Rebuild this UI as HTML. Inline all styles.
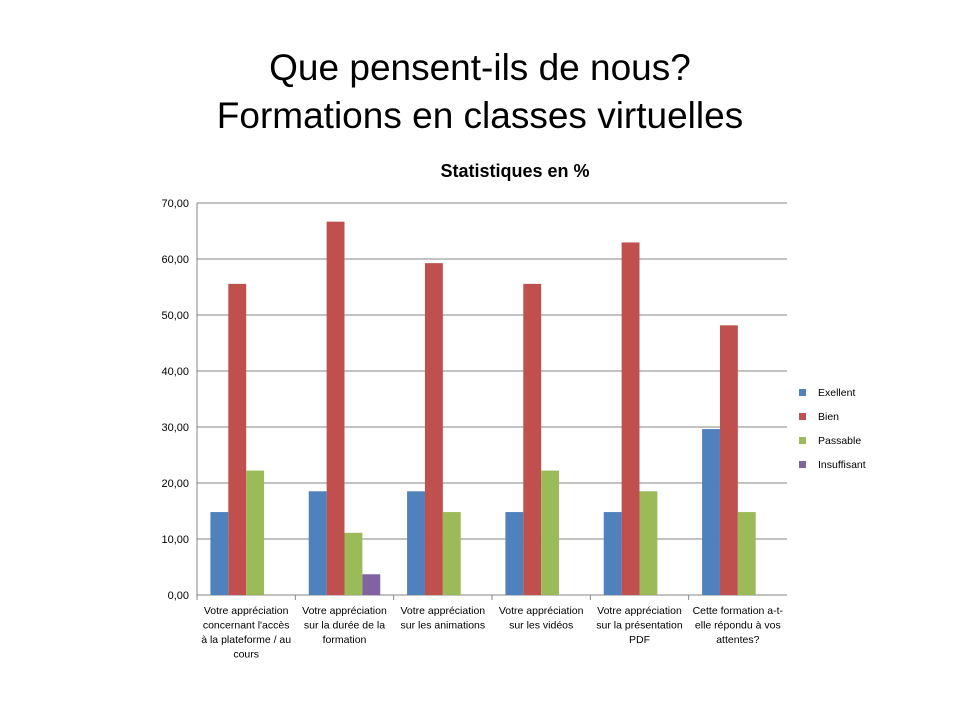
<!DOCTYPE html>
<html><head><meta charset="utf-8"><style>
body{margin:0;background:#fff;width:960px;height:720px;overflow:hidden;font-family:"Liberation Sans",sans-serif}
</style></head><body>
<svg width="960" height="720" xmlns="http://www.w3.org/2000/svg">
<text x="480" y="80" text-anchor="middle" font-size="37">Que pensent-ils de nous?</text>
<text x="480" y="128" text-anchor="middle" font-size="37">Formations en classes virtuelles</text>
<text x="515" y="177" text-anchor="middle" font-size="18" font-weight="bold">Statistiques en %</text>
<g id="plot"></g>
</svg>
<script>
const categories=[["Votre appréciation","concernant l'accès","à la plateforme / au","cours"],["Votre appréciation","sur la durée de la","formation"],["Votre appréciation","sur les animations"],["Votre appréciation","sur les vidéos"],["Votre appréciation","sur la présentation","PDF"],["Cette formation a-t-","elle répondu à vos","attentes?"]];
const seriesNames=["Exellent","Bien","Passable","Insuffisant"];
const exellent=[14.81,18.52,18.52,14.81,14.81,29.63];
const bien=[55.56,66.67,59.26,55.56,62.96,48.15];
const passable=[22.22,11.11,14.81,22.22,18.52,14.81];
const insuffisant=[0,3.70,0,0,0,0];
const yTicks=[0,10,20,30,40,50,60,70];
const colors=["#4F81BD","#C0504D","#9BBB59","#8064A2"];
const series=[exellent,bien,passable,insuffisant];
const NS="http://www.w3.org/2000/svg";
const g=document.getElementById('plot');
const X0=197,X1=787,Y0=595,Y1=203,YMAX=70;
const y=v=>Y0-(v/YMAX)*(Y0-Y1);
const gw=(X1-X0)/categories.length, bw=gw/5.5;
function mk(t,a){const e=document.createElementNS(NS,t);for(const k in a)e.setAttribute(k,a[k]);g.appendChild(e);return e;}
yTicks.forEach(t=>{
 const l=mk('line',{x1:X0,x2:X1,y1:y(t),y2:y(t),stroke:"#868686","stroke-width":1});
 
 
 const tx=mk('text',{x:X0-8,y:y(t)+4,"text-anchor":"end","font-size":11});
 tx.textContent=t.toFixed(2).replace('.',',');
 
 
});
const ax=mk('line',{x1:X0,x2:X0,y1:Y1,y2:Y0,stroke:"#868686"});


categories.forEach((c,i)=>{
 const gx=X0+i*gw;
 series.forEach((s,j)=>{
  const v=s[i]; if(v<=0)return;
  const r=mk('rect',{x:gx+0.75*bw+j*bw,y:y(v),width:bw,height:Y0-y(v),fill:colors[j]});
  
  
 });
 const tk=mk('line',{x1:gx,x2:gx,y1:Y0,y2:Y0+5,stroke:"#868686"});
 
 
 c.forEach((ln,k)=>{
  const t=mk('text',{x:gx+gw/2,y:Y0+19+k*14.5,"text-anchor":"middle","font-size":10.5});
  t.textContent=ln;
  
  
 });
});
seriesNames.forEach((n,j)=>{
 const ly=392+j*24;
 const r=mk('rect',{x:799,y:ly-3,width:7,height:7,fill:colors[j]});
 
 
 const t=mk('text',{x:818,y:ly+4,"font-size":10.5});
 t.textContent=n;
 
 
});
</script>
</body></html>
